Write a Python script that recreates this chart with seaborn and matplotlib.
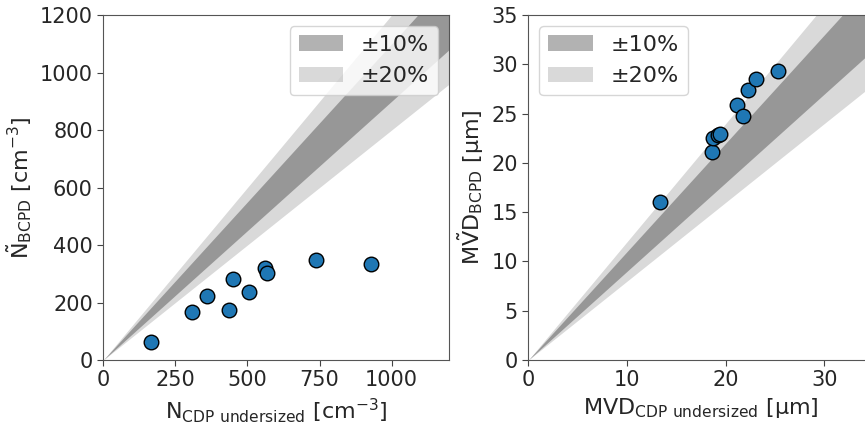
import numpy as np
import pandas as pd
import matplotlib
matplotlib.use("Agg")
import matplotlib.pyplot as plt
import seaborn as sns

sns.set_style("ticks")
plt.rcParams['font.family'] = ['DejaVu Sans']
plt.rcParams['mathtext.fontset'] = 'dejavusans'

# number concentration (left panel)
n_cdp = [164, 307, 361, 437, 451, 506, 560, 569, 739, 928]
n_bcpd = [64, 168, 224, 175, 282, 238, 319, 304, 348, 333]

# median volume diameter (right panel)
mvd_cdp = [13.3, 18.6, 18.7, 19.2, 19.4, 21.1, 21.75, 22.3, 23.1, 25.3]
mvd_bcpd = [16.0, 21.1, 22.5, 22.8, 22.9, 25.9, 24.8, 27.4, 28.5, 29.3]

band_labels = ['±10%', '±20%']

df_n = pd.DataFrame({'x': n_cdp, 'y': n_bcpd})
df_m = pd.DataFrame({'x': mvd_cdp, 'y': mvd_bcpd})

fig = plt.figure(figsize=(8.65, 4.24), dpi=100)
ax1 = fig.add_axes([0.1194, 0.1509, 0.4, 0.8137])
ax2 = fig.add_axes([0.6108, 0.1509, 0.3994, 0.8137])

FS = 15
LFS = 16

def draw_panel(ax, df, lim, legend_loc):
    xx = np.linspace(0, lim, 50)
    ax.fill_between(xx, xx * 0.9, xx * 1.1, color='k', alpha=0.3, lw=0, label=band_labels[0], zorder=2)
    ax.fill_between(xx, xx * 0.8, xx * 1.2, color='k', alpha=0.15, lw=0, label=band_labels[1], zorder=1)
    sns.scatterplot(data=df, x='x', y='y', ax=ax, color='#1f77b4', edgecolor='black',
                    linewidth=1, s=110, zorder=3, legend=False)
    ax.set_xlim(0, lim)
    ax.set_ylim(0, lim)
    ax.tick_params(labelsize=FS, length=4, color='#444444')
    for sp in ax.spines.values():
        sp.set_color('#555555')
    ax.legend(loc=legend_loc, fontsize=LFS)

draw_panel(ax1, df_n, 1200, 'upper right')
ax1.set_xticks([0, 250, 500, 750, 1000])
ax1.set_yticks(range(0, 1201, 200))
ax1.set_xlabel(r'N$_{\mathrm{CDP\ undersized}}$ [cm$^{-3}$]', fontsize=LFS)
ax1.set_ylabel(r'$\tilde{\mathrm{N}}_{\mathrm{BCPD}}$ [cm$^{-3}$]', fontsize=LFS)

draw_panel(ax2, df_m, 35, 'upper left')
ax2.set_xticks([0, 10, 20, 30])
ax2.set_yticks(range(0, 36, 5))
ax2.set_xlabel(r'MVD$_{\mathrm{CDP\ undersized}}$ [μm]', fontsize=LFS)
ax2.set_ylabel(r'M$\tilde{\mathrm{V}}$D$_{\mathrm{BCPD}}$ [μm]', fontsize=LFS)

fig.savefig('out.png', dpi=100)
